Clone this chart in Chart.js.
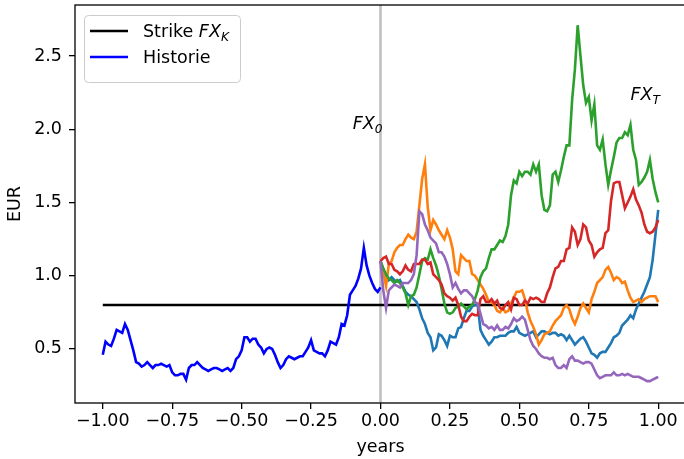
<!DOCTYPE html>
<html>
<head>
<meta charset="utf-8">
<script src="https://cdn.jsdelivr.net/npm/chart.js"></script>
<style>
  html, body { margin: 0; padding: 0; background: #fff; overflow: hidden; }
  #wrap { width: 690px; height: 459px; }
</style>
</head>
<body>
<div id="wrap"><canvas id="fxChart" width="690" height="459"></canvas></div>
<script>
// ── DATA ─────────────────────────────────────────────────────
// time grid: history runs -1..0, simulated paths run 0..1 (step 0.01)
const histStart = -1.0;
const pathStart = 0.0;
const stepSize  = 0.01;

const strikeTimes  = [-1, 1];
const strikeValues = [0.8, 0.8];

const histValues = [
  0.46,0.55,0.53,0.52,0.57,0.63,0.62,0.61,0.67,0.63,0.56,0.49,0.41,0.40,0.38,0.39,0.41,0.39,0.37,0.39,
  0.39,0.40,0.39,0.38,0.39,0.34,0.32,0.32,0.33,0.33,0.29,0.37,0.39,0.39,0.41,0.39,0.37,0.36,0.35,0.36,
  0.37,0.37,0.36,0.35,0.36,0.37,0.35,0.37,0.43,0.45,0.49,0.58,0.58,0.55,0.57,0.57,0.53,0.51,0.47,0.50,
  0.51,0.50,0.46,0.41,0.37,0.39,0.43,0.45,0.44,0.43,0.44,0.45,0.45,0.48,0.51,0.56,0.49,0.48,0.47,0.47,
  0.45,0.49,0.55,0.54,0.53,0.58,0.67,0.66,0.73,0.87,0.90,0.93,0.98,1.05,1.19,1.07,1.00,0.95,0.91,0.89,
  0.92];

const pathBlue = [
  1.10,1.04,1.00,0.97,0.99,0.97,0.96,0.97,0.93,0.89,0.87,0.86,0.84,0.82,0.77,0.71,0.67,0.61,0.58,0.49,
  0.51,0.60,0.59,0.56,0.52,0.59,0.58,0.58,0.64,0.65,0.71,0.76,0.76,0.79,0.80,0.80,0.63,0.59,0.56,0.53,
  0.55,0.58,0.58,0.59,0.59,0.59,0.61,0.62,0.62,0.65,0.61,0.60,0.59,0.60,0.61,0.62,0.58,0.60,0.62,0.62,
  0.61,0.60,0.61,0.61,0.59,0.60,0.59,0.56,0.59,0.56,0.53,0.55,0.57,0.58,0.55,0.51,0.47,0.46,0.44,0.47,
  0.48,0.48,0.51,0.54,0.58,0.59,0.61,0.66,0.68,0.70,0.73,0.71,0.77,0.81,0.85,0.89,0.94,0.99,1.11,1.28,
  1.45];
const pathOrange = [
  1.10,1.02,0.93,1.08,1.10,1.16,1.19,1.21,1.21,1.25,1.28,1.26,1.25,1.30,1.48,1.66,1.76,1.47,1.31,1.38,
  1.35,1.31,1.28,1.25,1.31,1.26,1.18,1.03,1.01,1.14,1.12,1.10,1.10,1.01,1.00,0.97,0.94,0.91,0.87,0.82,
  0.82,0.80,0.76,0.75,0.78,0.75,0.76,0.81,0.85,0.89,0.89,0.90,0.84,0.75,0.69,0.65,0.60,0.53,0.56,0.60,
  0.61,0.62,0.66,0.69,0.71,0.73,0.78,0.80,0.77,0.71,0.67,0.72,0.78,0.81,0.78,0.75,0.84,0.89,0.95,0.97,
  0.99,1.04,1.06,1.02,0.97,0.99,0.98,0.95,0.96,0.90,0.85,0.82,0.83,0.84,0.82,0.84,0.85,0.86,0.86,0.86,
  0.82];
const pathGreen = [
  1.10,1.05,1.01,0.98,0.97,0.95,0.97,0.95,0.92,0.88,0.80,0.86,0.87,0.92,1.01,1.10,1.12,1.11,1.18,1.12,
  1.07,1.00,0.91,0.81,0.75,0.74,0.75,0.78,0.79,0.81,0.79,0.77,0.79,0.80,0.84,0.90,0.99,1.03,1.05,1.12,
  1.18,1.18,1.21,1.24,1.23,1.27,1.35,1.55,1.65,1.63,1.71,1.68,1.71,1.71,1.69,1.76,1.71,1.76,1.55,1.45,
  1.44,1.48,1.69,1.71,1.64,1.72,1.81,1.89,1.89,2.20,2.41,2.71,2.50,2.30,2.18,2.22,2.06,2.17,1.89,1.86,
  1.93,1.76,1.62,1.72,1.81,1.91,1.94,1.94,1.98,1.96,2.03,1.86,1.79,1.62,1.64,1.67,1.71,1.79,1.66,1.57,
  1.50];
const pathRed = [
  1.10,1.12,1.13,1.08,1.08,1.04,1.03,1.01,1.03,1.07,1.04,1.03,1.08,1.08,1.08,1.11,1.11,1.08,1.09,1.01,
  0.99,0.97,0.94,0.88,0.86,0.85,0.83,0.85,0.80,0.72,0.69,0.69,0.72,0.74,0.73,0.73,0.84,0.86,0.82,0.82,
  0.84,0.81,0.83,0.78,0.77,0.80,0.82,0.77,0.85,0.84,0.80,0.80,0.83,0.81,0.85,0.84,0.85,0.84,0.82,0.82,
  0.88,0.92,0.99,1.05,1.06,1.10,1.10,1.18,1.19,1.33,1.30,1.21,1.25,1.35,1.33,1.24,1.21,1.13,1.16,1.18,
  1.19,1.29,1.31,1.51,1.63,1.64,1.64,1.55,1.46,1.50,1.54,1.59,1.52,1.48,1.43,1.35,1.30,1.29,1.30,1.33,
  1.38];
const pathPurple = [
  1.10,0.90,0.78,0.90,0.92,0.94,0.93,0.92,0.95,0.95,0.95,0.97,1.01,1.14,1.44,1.42,1.35,1.31,1.26,1.24,
  1.22,1.16,1.16,1.13,1.08,1.01,0.92,0.95,0.91,0.88,0.90,0.90,0.88,0.86,0.82,0.81,0.74,0.67,0.66,0.64,
  0.65,0.63,0.66,0.63,0.63,0.65,0.64,0.67,0.71,0.69,0.70,0.72,0.70,0.63,0.56,0.52,0.50,0.47,0.45,0.44,
  0.44,0.43,0.44,0.39,0.37,0.37,0.39,0.37,0.43,0.45,0.42,0.42,0.41,0.40,0.41,0.41,0.40,0.36,0.32,0.30,
  0.31,0.32,0.32,0.32,0.34,0.32,0.32,0.33,0.32,0.33,0.32,0.31,0.31,0.31,0.30,0.29,0.28,0.28,0.29,0.30,
  0.31];

const xTicks = [-1, -0.75, -0.5, -0.25, 0, 0.25, 0.5, 0.75, 1];
const yTicks = [0.5, 1.0, 1.5, 2.0, 2.5];

// axis limits (matplotlib-style 5% margins)
const xMin = -1.1, xMax = 1.1;
const yMin = 0.131, yMax = 2.848;

// ── HELPERS ──────────────────────────────────────────────────
const FONT = '"DejaVu Sans", sans-serif';
const FS = 17.5;        // font size used for every text
const LW = 2.6;         // line width of the curves

function toPoints(start, values) {
  return values.map((v, i) => ({ x: +(start + i * stepSize).toFixed(4), y: v }));
}

function lineSet(label, points, color, order) {
  return {
    label: label,
    data: points,
    borderColor: color,
    backgroundColor: color,
    borderWidth: LW,
    pointRadius: 0,
    tension: 0,
    order: order,
  };
}

// draws "FX" + subscript like matplotlib mathtext
function drawMath(ctx, x, y, main, sub) {
  ctx.font = 'italic ' + FS + 'px ' + FONT;
  ctx.fillText(main, x, y);
  const w = ctx.measureText(main).width;
  ctx.font = 'italic ' + (FS * 0.7) + 'px ' + FONT;
  ctx.fillText(sub, x + w, y + FS * 0.22);
}

// ── PLUGIN: zero line, frame, legend, labels ─────────────────
const decorPlugin = {
  id: 'decor',
  beforeDatasetsDraw(chart) {
    const { ctx, chartArea: a, scales: { x } } = chart;
    const px = x.getPixelForValue(0);
    ctx.save();
    ctx.strokeStyle = '#bfbfbf';
    ctx.lineWidth = 2.6;
    ctx.beginPath();
    ctx.moveTo(px, a.top);
    ctx.lineTo(px, a.bottom);
    ctx.stroke();
    ctx.restore();
  },
  afterDatasetsDraw(chart) {
    const { ctx, chartArea: a, scales: { x, y } } = chart;
    ctx.save();

    // axes frame
    ctx.strokeStyle = '#000';
    ctx.lineWidth = 1.3;
    ctx.strokeRect(a.left, a.top, a.right - a.left, a.bottom - a.top);

    // FX_0 and FX_T labels
    ctx.fillStyle = '#000';
    ctx.textBaseline = 'alphabetic';
    ctx.textAlign = 'left';
    drawMath(ctx, x.getPixelForValue(-0.1), y.getPixelForValue(2.0), 'FX', '0');
    drawMath(ctx, x.getPixelForValue(0.9), y.getPixelForValue(2.2), 'FX', 'T');

    // legend box
    ctx.beginPath();
    ctx.roundRect(84.5, 15.5, 156, 67, 4);
    ctx.fillStyle = 'rgba(255,255,255,0.8)';
    ctx.fill();
    ctx.strokeStyle = '#cccccc';
    ctx.lineWidth = 1;
    ctx.stroke();

    const rows = [
      { color: '#000000', y: 31, text: 'Strike ', math: ['FX', 'K'] },
      { color: '#0000ff', y: 57, text: 'Historie', math: null },
    ];
    rows.forEach(r => {
      ctx.strokeStyle = r.color;
      ctx.lineWidth = LW;
      ctx.beginPath();
      ctx.moveTo(90, r.y);
      ctx.lineTo(128, r.y);
      ctx.stroke();

      ctx.fillStyle = '#000';
      ctx.font = FS + 'px ' + FONT;
      const base = r.y + 6.4;
      ctx.fillText(r.text, 143, base);
      if (r.math) {
        const w = ctx.measureText(r.text).width;
        drawMath(ctx, 143 + w, base, r.math[0], r.math[1]);
      }
    });

    ctx.restore();
  }
};

// ── CHART ────────────────────────────────────────────────────
const tickFont = { family: FONT, size: FS };
const strikePoints = strikeTimes.map((t, i) => ({ x: t, y: strikeValues[i] }));

new Chart(document.getElementById('fxChart'), {
  type: 'line',
  data: {
    datasets: [
      lineSet('Strike', strikePoints, '#000000', 20),
      lineSet('Historie', toPoints(histStart, histValues), '#0000ff', 15),
      lineSet('path1', toPoints(pathStart, pathBlue), '#1f77b4', 5),
      lineSet('path2', toPoints(pathStart, pathOrange), '#ff7f0e', 4),
      lineSet('path3', toPoints(pathStart, pathGreen), '#2ca02c', 3),
      lineSet('path4', toPoints(pathStart, pathRed), '#d62728', 2),
      lineSet('path5', toPoints(pathStart, pathPurple), '#9467bd', 1),
    ]
  },
  options: {
    responsive: false,
    animation: false,
    devicePixelRatio: 1,
    parsing: false,
    layout: { padding: { top: 5, right: 4, left: 0, bottom: 0 } },
    plugins: {
      legend: { display: false },
      tooltip: { enabled: false },
    },
    scales: {
      x: {
        type: 'linear',
        min: xMin,
        max: xMax,
        afterBuildTicks: s => { s.ticks = xTicks.map(v => ({ value: v })); },
        afterFit: s => { s.height = 56; s.paddingLeft = 0; s.paddingRight = 0; },
        grid: { drawOnChartArea: false, drawTicks: true, tickLength: 6, color: '#000', lineWidth: 1.3 },
        border: { display: false },
        ticks: {
          font: tickFont, color: '#000', padding: 2, maxRotation: 0, autoSkip: false,
          callback: v => (v < 0 ? '\u2212' : '') + Math.abs(v).toFixed(2),
        },
        title: { display: true, text: 'years', font: tickFont, color: '#000', padding: { top: 0, bottom: 1.5 } },
      },
      y: {
        type: 'linear',
        min: yMin,
        max: yMax,
        afterBuildTicks: s => { s.ticks = yTicks.map(v => ({ value: v })); },
        afterFit: s => { s.width = 75; s.paddingTop = 0; s.paddingBottom = 0; },
        grid: { drawOnChartArea: false, drawTicks: true, tickLength: 6, color: '#000', lineWidth: 1.3 },
        border: { display: false },
        ticks: {
          font: tickFont, color: '#000', padding: 7, autoSkip: false,
          callback: v => v.toFixed(1),
        },
        title: { display: true, text: 'EUR', font: tickFont, color: '#000', padding: { top: 4.5, bottom: 0 } },
      }
    }
  },
  plugins: [decorPlugin]
});
</script>
</body>
</html>
